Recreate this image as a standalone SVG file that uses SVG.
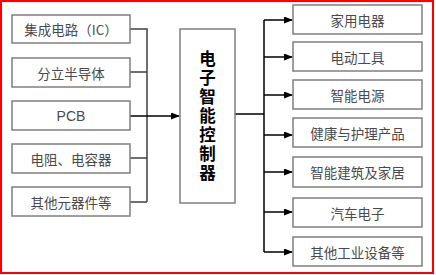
<svg xmlns="http://www.w3.org/2000/svg" width="436" height="275" viewBox="0 0 436 275">
<defs>
<marker id="ah" markerWidth="9" markerHeight="7" refX="8" refY="3.5" orient="auto" markerUnits="userSpaceOnUse">
<path d="M0,0 L9,3.5 L0,7 Z" fill="#000"/>
</marker>
<style>
.box{fill:#fff;stroke:#7f7f7f;stroke-width:1.5}
.t{font-family:"Noto Sans CJK SC","Liberation Sans",sans-serif;font-size:13.5px;fill:#4a4a4a;text-anchor:middle;dominant-baseline:central}
.c{font-family:"Noto Sans CJK SC","Liberation Sans",sans-serif;font-size:16.5px;font-weight:bold;fill:#000;writing-mode:vertical-rl;letter-spacing:2.5px}
.gl{fill:none;stroke:#404040;stroke-width:1.5}
.bl{fill:none;stroke:#000;stroke-width:1.5}
</style>
</defs>
<rect x="1" y="1" width="432" height="272" fill="#fff" stroke="#ff0000" stroke-width="2"/>
<g id="connectors">
<path class="gl" d="M130,29 H147 V202 M130,72 H147 M130,158 H147 M130,202 H147"/>
<path class="bl" d="M130,116 H179" marker-end="url(#ah)"/>
<path class="bl" d="M235,114 H264 M264,20 V252"/>
<path class="bl" d="M264,20 H292" marker-end="url(#ah)"/>
<path class="bl" d="M264,57 H292" marker-end="url(#ah)"/>
<path class="bl" d="M264,95 H292" marker-end="url(#ah)"/>
<path class="bl" d="M264,135 H292" marker-end="url(#ah)"/>
<path class="bl" d="M264,172 H292" marker-end="url(#ah)"/>
<path class="bl" d="M264,212 H292" marker-end="url(#ah)"/>
<path class="bl" d="M264,252 H292" marker-end="url(#ah)"/>
</g>
<g id="n_ic"><rect class="box" x="12" y="15" width="118" height="28"/><text class="t" x="71" y="29">集成电路（IC）</text></g>
<g id="n_semi"><rect class="box" x="12" y="58" width="118" height="29"/><text class="t" x="71" y="72.5">分立半导体</text></g>
<g id="n_pcb"><rect class="box" x="12" y="101" width="118" height="29"/><text class="t" x="71" y="115.5" style="font-family:'Liberation Sans',sans-serif;font-size:14px">PCB</text></g>
<g id="n_rc"><rect class="box" x="12" y="144" width="118" height="29"/><text class="t" x="71" y="158.5">电阻、电容器</text></g>
<g id="n_other"><rect class="box" x="12" y="187" width="118" height="29"/><text class="t" x="71" y="201.5">其他元器件等</text></g>
<g id="n_center"><rect class="box" x="180" y="29" width="55" height="174"/>
<text class="c" x="207.5" y="50">电子智能控制器</text></g>
<g id="n_home"><rect class="box" x="293" y="5" width="129" height="29"/><text class="t" x="357.5" y="19.5">家用电器</text></g>
<g id="n_tool"><rect class="box" x="293" y="42" width="129" height="29"/><text class="t" x="357.5" y="56.5">电动工具</text></g>
<g id="n_power"><rect class="box" x="293" y="80" width="129" height="29"/><text class="t" x="357.5" y="94.5">智能电源</text></g>
<g id="n_health"><rect class="box" x="293" y="118" width="129" height="29"/><text class="t" x="357.5" y="132.5">健康与护理产品</text></g>
<g id="n_build"><rect class="box" x="293" y="157" width="129" height="30"/><text class="t" x="357.5" y="172">智能建筑及家居</text></g>
<g id="n_car"><rect class="box" x="293" y="198" width="129" height="29"/><text class="t" x="357.5" y="212.5">汽车电子</text></g>
<g id="n_ind"><rect class="box" x="293" y="237" width="129" height="29"/><text class="t" x="357.5" y="251.5">其他工业设备等</text></g>
</svg>
